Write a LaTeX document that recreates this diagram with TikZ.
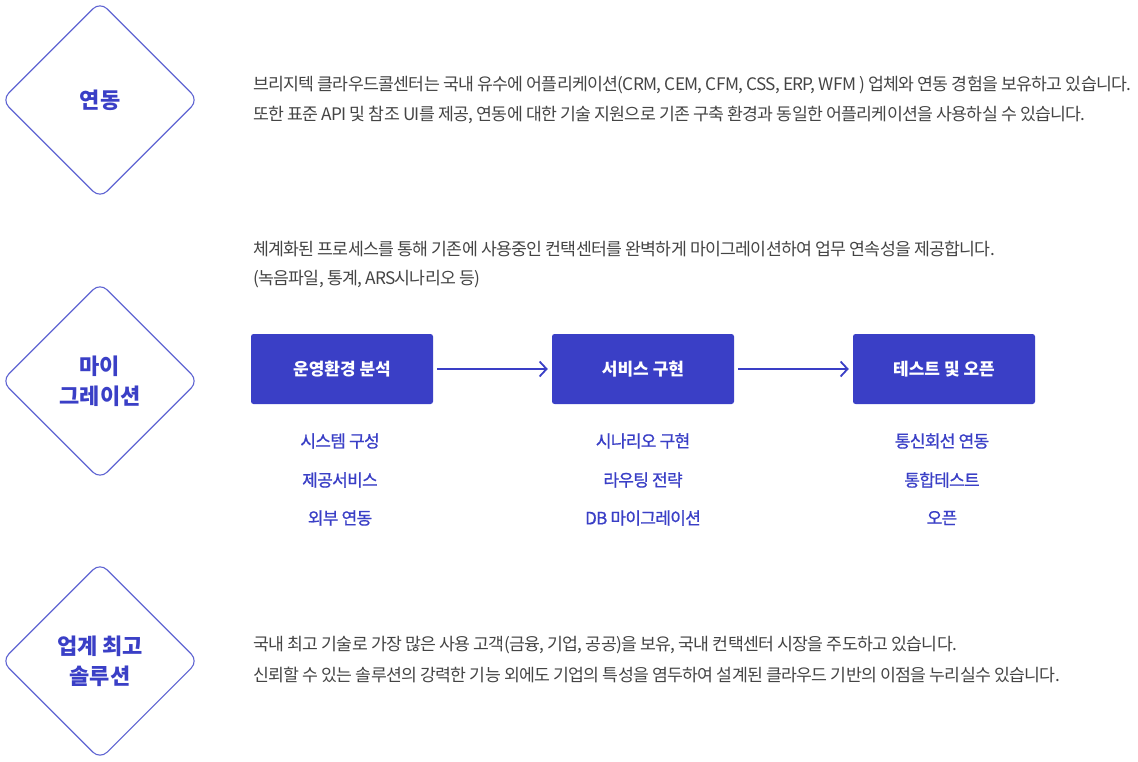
\documentclass[tikz,border=0pt]{standalone}
\usepackage{fontspec}
\setmainfont{Noto Sans CJK KR}
\newfontfamily\bodykr[LetterSpace=-4]{Noto Sans CJK KR}
\newfontfamily\medkr[LetterSpace=-4,FakeBold=0.8]{Noto Sans CJK KR}
\usetikzlibrary{shapes.geometric,arrows.meta}
\definecolor{brand}{HTML}{3A3FC6}
\definecolor{diam}{HTML}{5E63D2}
\definecolor{bodytxt}{HTML}{444444}
\tikzset{
  dia/.style={draw=diam,line width=1.1pt,diamond,aspect=1,minimum width=197pt,minimum height=197pt,inner sep=0pt,rounded corners=10pt,align=center,text=brand,font=\fontsize{22}{30}\selectfont\bfseries},
  bodyline/.style={anchor=west,inner sep=0pt,text=bodytxt,font=\bodykr\fontsize{17.25}{20}\selectfont},
  stepbox/.style={fill=brand,rounded corners=2.5pt,minimum width=182pt,minimum height=70pt,inner sep=0pt,text=white,font=\fontsize{17}{20}\selectfont\bfseries},
  sublabel/.style={inner sep=0pt,text=brand,font=\medkr\fontsize{17}{20}\selectfont},
  flow/.style={draw=brand,line width=1.8pt,-{Straight Barb[length=7pt,width=15pt,line width=1.8pt]}}
}
\begin{document}
\begin{tikzpicture}[x=1pt,y=-1pt]
\useasboundingbox (0,0) rectangle (1138,762);
% diamonds
\node[dia] (d1) at (100,100) {연동};
\node[dia] (d2) at (100,381) {마이\\그레이션};
\node[dia] (d3) at (100,661) {업계 최고\\솔루션};
% section 1 text
\node[bodyline] (t11) at (253,85) {브리지텍 클라우드콜센터는 국내 유수에 어플리케이션(CRM, CEM, CFM, CSS, ERP, WFM ) 업체와 연동 경험을 보유하고 있습니다.};
\node[bodyline] (t12) at (253,115) {또한 표준 API 및 참조 UI를 제공, 연동에 대한 기술 지원으로 기존 구축 환경과 동일한 어플리케이션을 사용하실 수 있습니다.};
% section 2 text
\node[bodyline] (t21) at (253,249) {체계화된 프로세스를 통해 기존에 사용중인 컨택센터를 완벽하게 마이그레이션하여 업무 연속성을 제공합니다.};
\node[bodyline] (t22) at (253,279) {(녹음파일, 통계, ARS시나리오 등)};
% steps
\node[stepbox] (s1) at (342,369) {운영환경 분석};
\node[stepbox] (s2) at (643,369) {서비스 구현};
\node[stepbox] (s3) at (944,369) {테스트 및 오픈};
\draw[flow] ([xshift=4pt]s1.east) -- ([xshift=-4pt]s2.west);
\draw[flow] ([xshift=4pt]s2.east) -- ([xshift=-4pt]s3.west);
% sub labels
\node[sublabel] (a1) at (340,441) {시스템 구성};
\node[sublabel] (a2) at (340,480) {제공서비스};
\node[sublabel] (a3) at (340,518) {외부 연동};
\node[sublabel] (b1) at (643,441) {시나리오 구현};
\node[sublabel] (b2) at (643,480) {라우팅 전략};
\node[sublabel] (b3) at (643,518) {DB 마이그레이션};
\node[sublabel] (c1) at (942,441) {통신회선 연동};
\node[sublabel] (c2) at (942,480) {통합테스트};
\node[sublabel] (c3) at (942,518) {오픈};
% section 3 text
\node[bodyline] (t31) at (253,645) {국내 최고 기술로 가장 많은 사용 고객(금융, 기업, 공공)을 보유, 국내 컨택센터 시장을 주도하고 있습니다.};
\node[bodyline] (t32) at (253,675) {신뢰할 수 있는 솔루션의 강력한 기능 외에도 기업의 특성을 염두하여 설계된 클라우드 기반의 이점을 누리실수 있습니다.};
\end{tikzpicture}
\end{document}
